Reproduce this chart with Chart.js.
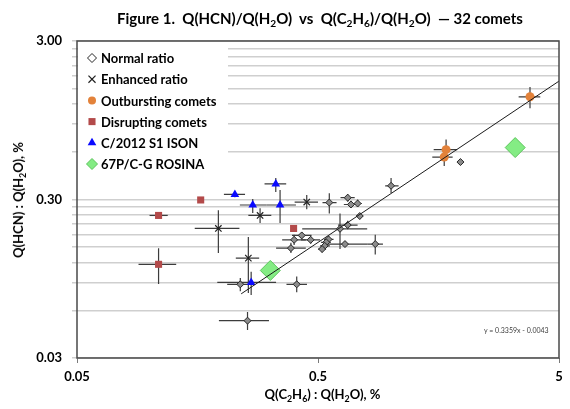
<!DOCTYPE html>
<html>
<head>
<meta charset="utf-8">
<script src="https://cdn.jsdelivr.net/npm/chart.js@4.4.1/dist/chart.umd.min.js"></script>
<style>
  body { margin: 0; background: #fff; overflow: hidden; }
  #wrap { position: relative; width: 570px; height: 409px; font-family: Lato, 'Open Sans', sans-serif; color: #000; }
  canvas { position: absolute; left: 0; top: 0; }
  .txt { position: absolute; font-weight: bold; white-space: pre; }
  .txt sub { font-size: 68%; vertical-align: baseline; position: relative; top: 0.3em; }
  #title { left: 70px; width: 500px; top: 9px; text-align: center; font-size: 15px; }
  #xtitle { left: 77px; width: 491px; top: 386px; text-align: center; font-size: 13px; }
  #ytitle { left: 18px; top: 200px; font-size: 13px; transform: translate(-50%, -50%) rotate(-90deg); }
  #eq { left: 484px; top: 326px; font-size: 7px; font-weight: normal; color: #404040; }
</style>
</head>
<body>
<div id="wrap">
  <canvas id="c" width="570" height="409"></canvas>
  <div class="txt" id="title">Figure 1.  Q(HCN)/Q(H<sub>2</sub>O)  vs  Q(C<sub>2</sub>H<sub>6</sub>)/Q(H<sub>2</sub>O)  — 32 comets</div>
  <div class="txt" id="xtitle">Q(C<sub>2</sub>H<sub>6</sub>) : Q(H<sub>2</sub>O), %</div>
  <div class="txt" id="ytitle">Q(HCN) : Q(H<sub>2</sub>O), %</div>
  <div class="txt" id="eq">y = 0.3359x - 0.0043</div>
</div>
<script>
// --- data (values in %) ---
const normalX = [0.557, 0.664, 0.685, 0.730, 1.005, 1.95, 0.745, 0.664, 0.617, 0.428, 0.398, 0.466, 0.553, 0.541, 0.533, 0.520, 0.386, 0.647, 0.864, 0.238, 0.408, 0.255];
const normalY = [0.287, 0.308, 0.279, 0.283, 0.366, 0.517, 0.236, 0.207, 0.196, 0.178, 0.167, 0.167, 0.168, 0.161, 0.153, 0.146, 0.148, 0.157, 0.157, 0.0875, 0.0875, 0.0516];
const normalXErr = [[0.522, 0.597], [0.62, 0.71], [0.64, 0.74], [0.70, 0.76], [0.95, 1.08], null, [0.72, 0.77], [0.605, 0.73], [0.43, 0.80], [0.39, 0.47], [0.355, 0.445], [0.425, 0.51], [0.53, 0.58], [0.515, 0.565], [0.51, 0.56], [0.50, 0.54], [0.335, 0.445], [0.53, 0.80], [0.80, 0.93], [0.21, 0.27], [0.37, 0.45], [0.194, 0.313]];
const normalYErr = [[0.245, 0.329], [0.29, 0.325], [0.265, 0.295], [0.27, 0.30], [0.33, 0.41], null, [0.225, 0.245], [0.195, 0.22], [0.146, 0.245], [0.17, 0.187], [0.155, 0.18], [0.158, 0.177], [0.16, 0.176], [0.153, 0.169], [0.146, 0.16], [0.139, 0.153], [0.138, 0.16], [0.152, 0.162], [0.135, 0.18], [0.079, 0.096], [0.078, 0.098], [0.0451, 0.0585]];

const enhancedX = [0.449, 0.2875, 0.193, 0.257];
const enhancedY = [0.289, 0.238, 0.197, 0.128];
const enhancedXErr = [[0.40, 0.50], [0.257, 0.320], [0.154, 0.236], [0.228, 0.285]];
const enhancedYErr = [[0.26, 0.32], [0.213, 0.264], [0.138, 0.257], [0.077, 0.174]];

const outburstX = [3.79, 1.70, 1.67];
const outburstY = [1.334, 0.619, 0.556];
const outburstXErr = [[3.40, 4.18], [1.51, 1.89], [1.49, 1.81]];
const outburstYErr = [[1.13, 1.54], [0.533, 0.716], [0.488, 0.616]];

const disruptX = [0.163, 0.109, 0.109, 0.396];
const disruptY = [0.298, 0.238, 0.117, 0.197];
const disruptXErr = [null, [0.100, 0.119], [0.090, 0.129], null];
const disruptYErr = [null, null, [0.088, 0.148], null];

const isonX = [0.226, 0.334, 0.268, 0.348, 0.264];
const isonY = [0.323, 0.376, 0.277, 0.277, 0.090];
const isonXErr = [[0.2035, 0.249], [0.300, 0.369], [0.237, 0.306], [0.306, 0.405], [0.191, 0.335]];
const isonYErr = [[0.31, 0.335], [0.334, 0.41], [0.247, 0.302], [0.213, 0.344], [0.075, 0.105]];

const rosinaX = [0.317, 3.29];
const rosinaY = [0.107, 0.638];

// trend line y = 0.3359x - 0.0043, end points as drawn
const trendX = [0.24, 5];
const trendY = [0.0762, 1.675];

const xTickValues = [0.05, 0.5, 5];
const xTickLabels = ['0.05', '0.5', '5'];
const yTickValues = [0.03, 0.06, 0.09, 0.12, 0.15, 0.18, 0.21, 0.24, 0.27, 0.3, 0.6, 0.9, 1.2, 1.5, 1.8, 2.1, 2.4, 2.7, 3];
const yTickLabels = { 0.03: '0.03', 0.3: '0.30', 3: '3.00' };

const pts = (xs, ys) => xs.map((x, i) => ({ x: x, y: ys[i] }));

// error bars + legend box + frame
const extras = {
    id: 'extras',
    beforeDatasetsDraw(chart) {
        const { ctx, chartArea: a, scales } = chart;
        const x = scales.x, y = scales.y;
        ctx.save();
        // legend sits on a white box that hides the grid
        ctx.fillStyle = '#fff';
        ctx.fillRect(a.left + 1, a.top + 2, 150, 136);

        ctx.strokeStyle = '#3c3c3c';
        ctx.lineWidth = 1.2;
        chart.data.datasets.forEach(ds => {
            if (!ds.xErr && !ds.yErr) return;
            ds.data.forEach((p, i) => {
                const px = x.getPixelForValue(p.x), py = y.getPixelForValue(p.y);
                const xe = ds.xErr && ds.xErr[i], ye = ds.yErr && ds.yErr[i];
                ctx.beginPath();
                if (xe) {
                    ctx.moveTo(x.getPixelForValue(xe[0]), py);
                    ctx.lineTo(x.getPixelForValue(xe[1]), py);
                }
                if (ye) {
                    ctx.moveTo(px, y.getPixelForValue(ye[0]));
                    ctx.lineTo(px, y.getPixelForValue(ye[1]));
                }
                ctx.stroke();
            });
        });
        ctx.restore();
    },
    afterDraw(chart) {
        const { ctx, chartArea: a } = chart;
        ctx.save();
        // legend
        let ly = a.top + 17;
        chart.data.datasets.forEach(ds => {
            if (ds.hideInLegend) return;
            ctx.fillStyle = ds.legendFill || ds.backgroundColor;
            ctx.strokeStyle = ds.borderColor;
            ctx.lineWidth = ds.borderWidth;
            Chart.helpers.drawPoint(ctx, { pointStyle: ds.pointStyle, radius: ds.legendRadius, rotation: 0, borderWidth: ds.borderWidth }, a.left + 15, ly);
            ctx.fillStyle = '#000';
            ctx.font = 'bold 13px Lato';
            ctx.textBaseline = 'middle';
            ctx.fillText(ds.label, a.left + 24, ly + 1);
            ly += 21.2;
        });
        // plot frame
        ctx.strokeStyle = '#4a4a4a';
        ctx.lineWidth = 1.5;
        ctx.strokeRect(a.left, a.top, a.right - a.left, a.bottom - a.top);
        ctx.restore();
    }
};

new Chart(document.getElementById('c'), {
    type: 'scatter',
    data: {
        datasets: [{
            label: 'trend',
            data: pts(trendX, trendY),
            showLine: true,
            pointRadius: 0,
            borderColor: '#1a1a1a',
            borderWidth: 1,
            hideInLegend: true,
            order: 0
        }, {
            label: 'Normal ratio',
            data: pts(normalX, normalY),
            xErr: normalXErr, yErr: normalYErr,
            pointStyle: 'rectRot', pointRadius: 3.5, legendRadius: 4.5,
            backgroundColor: '#8c8c8c', legendFill: '#fff', borderColor: '#262626', borderWidth: 1,
            order: 2
        }, {
            label: 'Enhanced ratio',
            data: pts(enhancedX, enhancedY),
            xErr: enhancedXErr, yErr: enhancedYErr,
            pointStyle: 'crossRot', pointRadius: 4.5, legendRadius: 5,
            backgroundColor: '#202020', borderColor: '#202020', borderWidth: 1.2,
            order: 2
        }, {
            label: 'Outbursting comets',
            data: pts(outburstX, outburstY),
            xErr: outburstXErr, yErr: outburstYErr,
            pointStyle: 'circle', pointRadius: 4.5, legendRadius: 4,
            backgroundColor: '#e3823a', borderColor: '#e3823a', borderWidth: 0,
            order: 1
        }, {
            label: 'Disrupting comets',
            data: pts(disruptX, disruptY),
            xErr: disruptXErr, yErr: disruptYErr,
            pointStyle: 'rect', pointRadius: 5, legendRadius: 5,
            backgroundColor: '#b34a4a', borderColor: '#b34a4a', borderWidth: 0,
            order: 1
        }, {
            label: 'C/2012 S1 ISON',
            data: pts(isonX, isonY),
            xErr: isonXErr, yErr: isonYErr,
            pointStyle: 'triangle', pointRadius: 5, legendRadius: 5,
            backgroundColor: '#0a0aff', borderColor: '#0a0aff', borderWidth: 0,
            order: 1
        }, {
            label: '67P/C-G ROSINA',
            data: pts(rosinaX, rosinaY),
            pointStyle: 'rectRot', pointRadius: 10, legendRadius: 5.5,
            backgroundColor: '#84ec84', borderColor: '#5cc45c', borderWidth: 1,
            order: 3
        }]
    },
    options: {
        responsive: false,
        devicePixelRatio: 1,
        animation: false,
        events: [],
        layout: { padding: { left: 0, top: 41, right: 2, bottom: 0 } },
        plugins: { legend: { display: false }, tooltip: { enabled: false } },
        scales: {
            x: {
                type: 'logarithmic', min: 0.05, max: 5,
                afterBuildTicks: s => { s.ticks = xTickValues.map(v => ({ value: v })); },
                afterFit: s => { s.height = 51; },
                ticks: {
                    autoSkip: false, maxRotation: 0, padding: 6, color: '#000',
                    font: { family: 'Lato', size: 13, weight: 'bold' },
                    callback: (v, i) => xTickLabels[i]
                },
                grid: { drawOnChartArea: false, color: '#7a7a7a', tickLength: 5 },
                border: { display: false }
            },
            y: {
                type: 'logarithmic', min: 0.03, max: 3,
                afterBuildTicks: s => { s.ticks = yTickValues.map(v => ({ value: v })); },
                afterFit: s => { s.width = 77; },
                ticks: {
                    autoSkip: false, padding: 10, color: '#000',
                    font: { family: 'Lato', size: 13, weight: 'bold' },
                    callback: v => yTickLabels[v] || ''
                },
                grid: { color: '#cfcfcf', lineWidth: 1.5, tickLength: 5 },
                border: { display: false }
            }
        }
    },
    plugins: [extras]
});
</script>
</body>
</html>
